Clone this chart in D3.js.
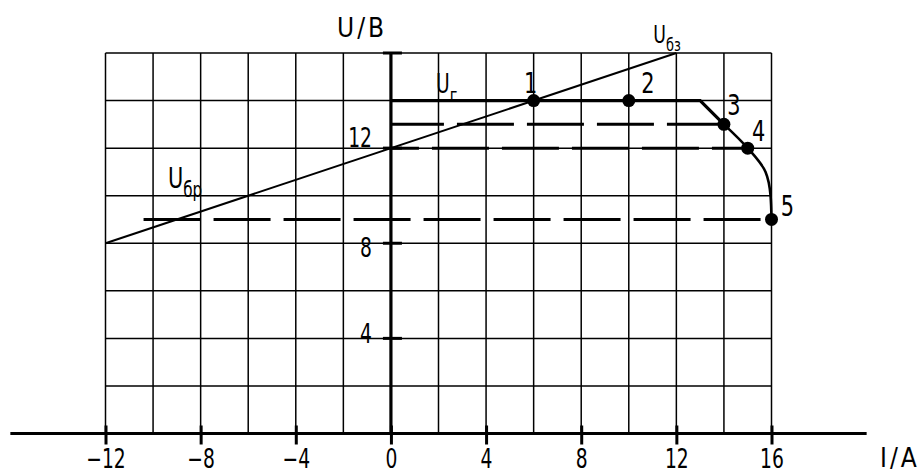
<!DOCTYPE html>
<html>
<head>
<meta charset="utf-8">
<script src="https://cdn.jsdelivr.net/npm/d3@7"></script>
<style>
  body { margin: 0; background: #fff; }
  svg { display: block; }
  text { font-family: "DejaVu Sans Condensed", "DejaVu Sans", sans-serif; font-stretch: condensed; fill: #000; }
</style>
</head>
<body>
<div id="chart"></div>
<script>
// data
var xTicks = [-12, -8, -4, 0, 4, 8, 12, 16];
var yTicks = [4, 8, 12, 16];
var yLabels = [4, 8, 12];
var gridX = d3.range(-12, 17, 2);
var gridY = d3.range(0, 17, 2);
var axisXExtent = [-16, 20];

// U_бз line
var uBz = [[-12, 8], [12, 16]];
// U_г characteristic: flat part, then falling curve
var uGFlat = [[0, 14], [13, 14], [14, 13]];
var uGCurve = [[14, 13], [15, 12], [15.75, 11], [15.96, 10], [16, 9]];
// numbered points
var pointNames = ["1", "2", "3", "4", "5"];
var pointI = [6, 10, 14, 15, 16];
var pointU = [14, 14, 13, 12, 9];
// dashed levels
var dashU = [13, 12, 9];
var dashFrom = [0, 0, -10.4];
var dashTo = [14, 15, 16];

var width = 923, height = 475;
var squeeze = 0.8;   // the drawing font is narrow, DejaVu is not

function translate(dx, dy){
    return "translate(" + dx + "," + dy + ")";
}

// text with its own origin, squeezed horizontally
function label(px, py, size, str, anchor, sx){
    return svg.append("text")
        .attr("transform", translate(px, py) + " scale(" + (sx || squeeze) + ",1)")
        .attr("text-anchor", anchor || "start")
        .attr("font-size", size)
        .text(str);
}

var x = d3.scaleLinear().domain([-12, 16]).range([105.5, 771.5]);
var y = d3.scaleLinear().domain([0, 16]).range([433.5, 53]);

var svg = d3.select("#chart").append("svg")
    .attr("width", width)
    .attr("height", height);

// grid
var grid = svg.append("g").attr("class", "grid")
    .attr("stroke", "#000").attr("stroke-width", 1.5);
grid.selectAll(".gx").data(gridX).enter().append("line")
    .attr("class", "gx")
    .attr("x1", function(d){ return x(d); }).attr("x2", function(d){ return x(d); })
    .attr("y1", y(0)).attr("y2", y(16));
grid.selectAll(".gy").data(gridY).enter().append("line")
    .attr("class", "gy")
    .attr("x1", x(-12)).attr("x2", x(16))
    .attr("y1", function(d){ return y(d); }).attr("y2", function(d){ return y(d); });

// x axis
var xAxis = d3.axisBottom(x)
    .tickValues(xTicks)
    .tickSizeInner(11)
    .tickSizeOuter(0)
    .tickFormat(function(d){ return d < 0 ? "\u2212" + Math.abs(d) : d; });
var gx = svg.append("g").attr("class", "x-axis")
    .attr("transform", translate(0, y(0)))
    .call(xAxis);
gx.select(".domain").remove();
gx.selectAll(".tick line").attr("stroke", "#000").attr("stroke-width", 3).attr("y1", -8);
gx.selectAll(".tick text")
    .attr("font-size", 26)
    .attr("fill", "#000")
    .attr("y", 34.5)
    .attr("dy", 0)
    .attr("transform", "scale(" + squeeze + ",1)");
gx.append("line")
    .attr("x1", x(axisXExtent[0])).attr("x2", x(axisXExtent[1]))
    .attr("stroke", "#000").attr("stroke-width", 3.2);
label(880, 467, 26, "I/A", "start", 1).attr("letter-spacing", 3);

// y axis
var gy = svg.append("g").attr("class", "y-axis");
gy.append("line")
    .attr("x1", x(0)).attr("x2", x(0))
    .attr("y1", y(16)).attr("y2", y(0))
    .attr("stroke", "#000").attr("stroke-width", 3.2);
gy.selectAll(".ytick").data(yTicks).enter().append("line")
    .attr("class", "ytick")
    .attr("x1", x(0) - 8).attr("x2", x(0) + 11)
    .attr("y1", function(d){ return y(d); }).attr("y2", function(d){ return y(d); })
    .attr("stroke", "#000").attr("stroke-width", 3);
yLabels.forEach(function(d){
    var dy = d === 12 ? -1 : d === 8 ? 14 : 5;
    label(372, y(d) + dy, 26, d, "end");
});
label(337, 37, 26, "U/B", "start", 1).attr("letter-spacing", 3);

// dashed levels
var dashOffset = [4, 29, 0];
svg.selectAll(".level").data(dashU).enter().append("line")
    .attr("class", "level")
    .attr("x1", function(d, i){ return x(dashFrom[i]); })
    .attr("x2", function(d, i){ return x(dashTo[i]); })
    .attr("y1", function(d){ return y(d); })
    .attr("y2", function(d){ return y(d); })
    .attr("stroke", "#000").attr("stroke-width", 3)
    .attr("stroke-dasharray", "57,13")
    .attr("stroke-dashoffset", function(d, i){ return dashOffset[i]; });

// U_бз
var line = d3.line().x(function(d){ return x(d[0]); }).y(function(d){ return y(d[1]); });
svg.append("path")
    .attr("d", line(uBz))
    .attr("fill", "none").attr("stroke", "#000").attr("stroke-width", 2);

// U_г
svg.append("path")
    .attr("d", line(uGFlat))
    .attr("fill", "none").attr("stroke", "#000").attr("stroke-width", 3.2);
var curve = d3.line().curve(d3.curveMonotoneY)
    .x(function(d){ return x(d[0]); }).y(function(d){ return y(d[1]); });
svg.append("path")
    .attr("d", curve(uGCurve))
    .attr("fill", "none").attr("stroke", "#000").attr("stroke-width", 2.6);

// points
var pts = pointNames.map(function(n, i){ return {name: n, i: pointI[i], u: pointU[i]}; });
svg.selectAll(".point").data(pts).enter().append("circle")
    .attr("class", "point")
    .attr("cx", function(d){ return x(d.i); })
    .attr("cy", function(d){ return y(d.u); })
    .attr("r", 6.5)
    .attr("fill", "#000");
var labelDx = [-3, 19, 10, 11, 16];
var labelDy = [-8, -8, -9, -7, -3];
pts.forEach(function(d, i){
    label(x(d.i) + labelDx[i], y(d.u) + labelDy[i], 29, d.name, "middle");
});

// curve names
function subLabel(px, py, sub, big, small){
    var t = label(px, py, big, "U");
    t.append("tspan").attr("font-size", small).attr("dy", small * 0.45).text(sub);
}
subLabel(x(12) - 23, y(16) - 10, "бз", 24, 18);
subLabel(168, 188, "бр", 29, 21);
subLabel(436, 93, "г", 26, 20);
</script>
</body>
</html>
